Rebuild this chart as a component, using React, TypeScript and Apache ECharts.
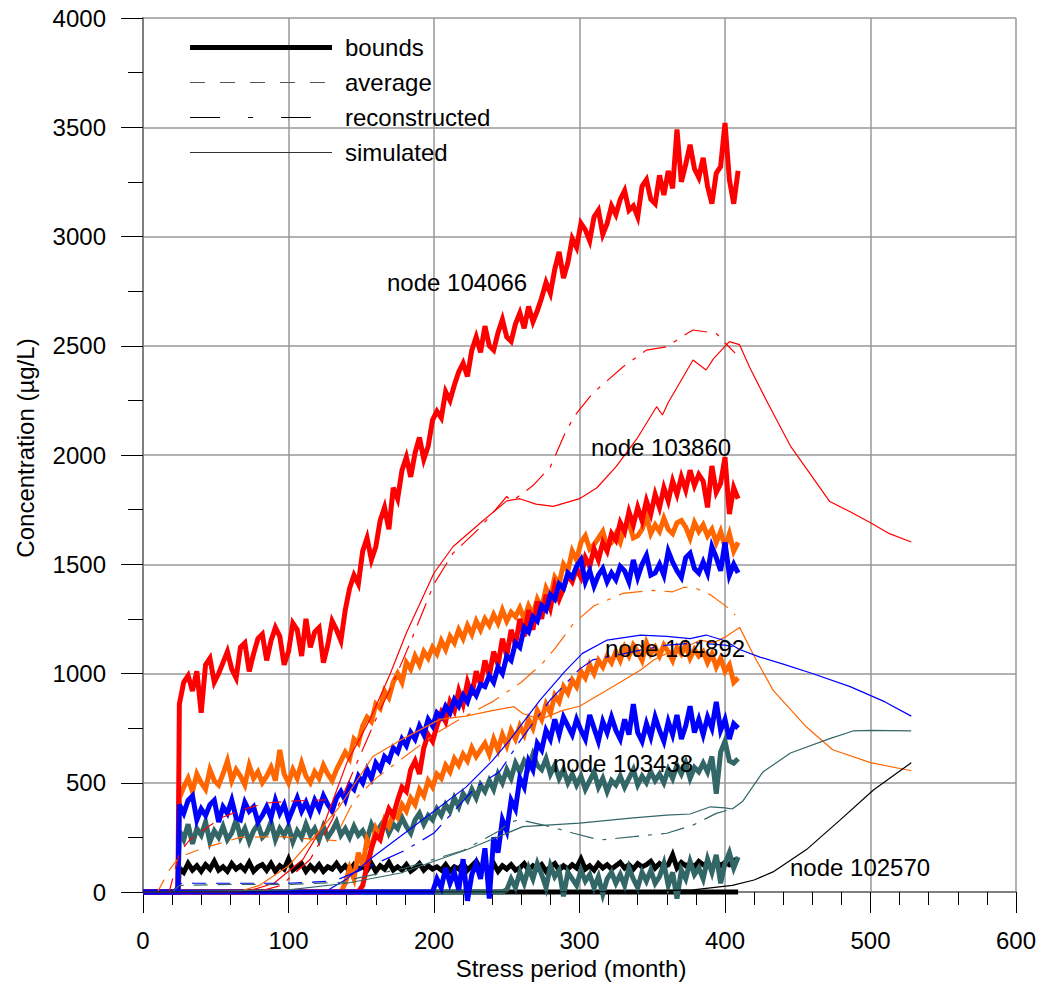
import React, { useEffect, useRef } from 'react';
import * as echarts from 'echarts';

const FONT = '"Liberation Sans", Arial, Helvetica, sans-serif';

// months at which the bound curves are sampled
const M = [25,28,31,34,37,40,43,46,49,52, 55,58,61,64,67,70,73,76,79,82, 85,88,91,94,97,100,103,106,109,112,
  115,118,121,124,127,130,133,136,139,142, 145,148,151,154,157,160,163,166,169,172, 175,178,181,184,187,190,193,196,199,202,
  205,208,211,214,217,220,223,226,229,232, 235,238,241,244,247,250,253,256,259,262, 265,268,271,274,277,280,283,286,289,292,
  295,298,301,304,307,310,313,316,319,322, 325,328,331,334,337,340,343,346,349,352, 355,358,361,364,367,370,373,376,379,382,
  385,388,391,394,397,400,403,406,409];

// ---- node 104066 (red) ----
const RED_UP = [860,960,990,920,1010,820,1040,1070,960,1000, 1050,1100,1020,980,1120,1140,1010,1090,1160,1180,
  1060,1150,1210,1170,1040,1100,1230,1200,1080,1250, 1120,1190,1210,1050,1130,1240,1200,1150,1290,1390,
  1450,1410,1560,1620,1520,1580,1700,1760,1660,1850, 1800,1930,1990,1900,2010,2080,1980,2040,2160,2200,
  2170,2290,2250,2320,2380,2420,2360,2480,2540,2470, 2590,2500,2480,2560,2620,2540,2520,2600,2650,2580,
  2680,2610,2660,2720,2790,2740,2850,2930,2810,2880, 2990,2950,3060,3030,2980,3090,3120,3010,3060,3140,
  3100,3170,3210,3120,3140,3090,3230,3260,3170,3150, 3280,3190,3300,3220,3490,3250,3330,3420,3310,3270,
  3360,3230,3150,3290,3320,3520,3260,3150,3300];
const RED_LOW_FROM = 145;
const RED_LOW = [0,0,30,120,200,260,240,320,380,350, 420,480,460,560,600,540,660,720,690,760,
  820,780,870,830,920,860,960,900,1010,950, 1060,990,1100,1040,1160,1080,1200,1130,1250,1170,
  1290,1200,1330,1250,1360,1300,1400,1340,1390,1450, 1420,1480,1440,1530,1490,1570,1520,1600,1560,1640,
  1610,1690,1650,1740,1680,1760,1700,1790,1730,1820, 1760,1850,1790,1880,1820,1900,1840,1930,1860,1910,
  1880,1760,1950,1830,1870,1990,1730,1850,1800];
const RED_AVG_X = [18,25,32,45,55,70,85,100,115,126];
const RED_AVG_Y = [0,178,238,300,343,380,407,415,420,421];
const RED_REC_X = [78,95,115,130,145,160,172,183,200,213,232,250,253,256,268,280,291,298,309,330,346,360,370,378,394,402,407];
const RED_REC_Y = [0,30,150,330,560,790,960,1130,1410,1550,1670,1810,1790,1800,1860,1946,2114,2191,2282,2404,2480,2495,2540,2572,2557,2500,2466];
const RED_SIM_X = [0,70,90,110,125,140,156,170,181,200,213,232,250,259,270,282,300,312,325,340,353,357,361,378,387,392,403,410,417,430,445,460,472,486,500,513,528];
const RED_SIM_Y = [0,0,40,150,320,590,790,1000,1185,1460,1580,1690,1790,1800,1775,1765,1800,1850,1946,2080,2221,2183,2240,2435,2389,2440,2519,2505,2400,2230,2041,1900,1787,1740,1690,1640,1602];

// ---- node 103860 (orange) ----
const ORANGE_UP = [430,480,520,460,540,500,470,560,510,490, 540,600,510,560,530,490,580,520,550,500,
  530,570,510,650,540,500,560,520,590,530, 500,550,520,580,540,510,560,600,640,610,
  700,680,760,800,780,860,840,920,890,960, 1000,960,1050,1020,1080,1040,1100,1070,1120,1090,
  1150,1110,1170,1140,1200,1160,1220,1180,1240,1200, 1250,1220,1270,1230,1290,1240,1280,1260,1300,1250,
  1310,1270,1340,1300,1390,1350,1440,1410,1500,1470, 1560,1520,1600,1630,1570,1590,1620,1650,1580,1600,
  1640,1600,1670,1690,1620,1630,1660,1720,1640,1680, 1650,1710,1660,1640,1690,1700,1670,1620,1690,1650,
  1680,1630,1660,1600,1650,1580,1640,1560,1600];
const ORANGE_LOW_FROM = 136;
const ORANGE_LOW = [0,40,110, 60,180,120,240,200,290,250,330,300,360, 340,400,370,430,400,470,440,510,480,540,
  520,580,550,610,580,630,600,660,620,650, 680,630,700,650,720,670,740,700,760,720,
  790,750,830,790,860,820,900,870,940,910, 970,940,1010,980,1040,1000,1060,1030,1080,1050,
  1100,1060,1120,1080,1130,1100,1060,1140,1090,1120, 1080,1130,1100,1060,1120,1090,1130,1070,1110,1080,
  1100,1050,1090,1030,1070,1010,1040,960,980];
const ORANGE_AVG_X = [10,18,25,41,67,94,122,133];
const ORANGE_AVG_Y = [0,100,160,200,250,253,240,235];
const ORANGE_REC_X = [136,145,160,180,200,220,240,260,275,284,296,310,330,350,364,372,380,390,401,407];
const ORANGE_REC_Y = [300,420,520,620,720,800,870,960,1050,1122,1230,1310,1367,1380,1374,1395,1390,1360,1306,1268];
const ORANGE_SIM_X = [0,65,80,100,120,135,158,177,204,222,240,255,261,273,288,300,319,342,351,360,370,383,392,401,410,420,433,456,474,500,528];
const ORANGE_SIM_Y = [0,0,30,120,270,390,620,695,790,805,830,848,817,790,830,850,924,1016,1062,1092,1110,1153,1140,1170,1211,1080,924,755,651,592,555];

// ---- node 104892 (blue) ----
const BLUE_UP = [400,360,420,440,330,380,350,400,420,320, 390,360,420,340,330,410,370,390,320,350,
  390,340,420,360,400,330,380,430,370,410, 360,420,380,440,400,370,430,460,420,490,
  470,530,500,560,520,590,560,620,600,660, 640,700,670,730,700,760,720,790,760,820,
  800,850,820,880,850,900,870,930,900,950, 940,990,960,1030,1000,1080,1060,1140,1120,1210,
  1190,1260,1240,1310,1290,1360,1340,1410,1390,1460, 1440,1490,1520,1420,1470,1400,1450,1480,1420,1460,
  1430,1490,1470,1420,1520,1440,1500,1540,1450,1460, 1500,1450,1560,1510,1470,1440,1530,1550,1480,1460,
  1510,1460,1580,1530,1470,1600,1450,1500,1460];
const BLUE_LOW_FROM = 199;
const BLUE_LOW = [0,60, 20,110,40,90,10,150,-40,80,130,60, 200,-30,250,180,330,280,420,380,520,480,
  600,560,680,650,740,700,790,720,800,760, 720,790,740,700,810,750,690,780,730,800,
  740,700,790,720,860,730,690,770,710,800, 740,690,780,720,810,700,760,850,730,790,
  720,800,750,870,740,790,700,770,750];
const BLUE_AVG_X = [20,25,60,100,130];
const BLUE_AVG_Y = [0,40,40,40,50];
const BLUE_REC_X = [135,160,180,200,215,229,245,260,280,300,309,330,342,360,380,400,407];
const BLUE_REC_Y = [60,130,190,270,380,482,550,700,880,1020,1062,1090,1107,1130,1140,1130,1120];
const BLUE_SIM_X = [0,125,140,158,180,204,222,240,252,273,290,302,319,342,360,376,387,400,410,424,440,460,486,510,528];
const BLUE_SIM_Y = [0,0,60,160,270,390,480,600,695,879,1010,1092,1153,1176,1170,1160,1176,1150,1110,1075,1043,1000,940,870,805];

// ---- node 103438 (teal) ----
const TEAL_UP = [280,240,310,220,290,260,320,230,280,250, 300,240,270,330,250,290,230,280,310,250,
  270,320,240,290,260,300,230,280,250,310, 260,290,240,300,250,280,320,260,290,250,
  300,260,280,240,310,270,300,330,270,310, 290,340,300,270,330,360,310,350,330,380,
  350,400,370,430,390,450,420,470,430,490, 460,510,470,540,500,560,520,590,550,600,
  570,630,580,560,610,540,580,520,560,500, 540,490,530,470,510,550,480,520,460,510,
  490,530,480,520,560,490,530,500,550,510, 540,500,560,520,580,540,590,520,570,550,
  590,550,620,450,640,690,600,590,610];
const TEAL_LOW_FROM = 247;
const TEAL_LOW = [0,10,60,20,90,40, 110,60,130,80,20,120,70,100,-20,90,
  60,30,100,50,80,20,70,-10,60,90, 40,80,30,110,60,20,90,50,100,40,
  70,130,30,90,-30,100,60,140,80,110, 60,150,90,170,40,130,180,110,160];
const TEAL_AVG_X = [20,25,60,100,140];
const TEAL_AVG_Y = [0,30,35,35,45];
const TEAL_REC_X = [145,180,220,245,252,259,280,296,314,337,360,378,394,405];
const TEAL_REC_Y = [60,110,190,280,320,330,299,269,238,253,269,306,360,380];
const TEAL_SIM_X = [0,100,140,177,222,261,300,337,360,376,390,400,405,412,426,445,472,488,500,528];
const TEAL_SIM_Y = [0,10,40,87,192,299,315,339,352,357,390,385,380,414,549,636,702,737,740,737];

// ---- node 102570 (black) ----
const BLACK_UP = [110,90,130,100,120,95,125,105,140,100, 115,95,130,105,120,100,135,95,115,125,
  100,130,95,120,105,150,100,115,130,95, 120,100,125,95,115,105,130,100,120,95,
  125,105,115,100,130,95,120,105,135,100, 115,100,125,95,110,130,100,120,105,115,
  100,125,95,115,105,130,100,120,140,105, 115,100,130,95,120,105,125,100,110,130,
  100,120,105,125,95,115,130,100,120,105, 125,110,150,105,120,100,130,110,125,105,
  120,135,110,125,105,130,115,125,140,110, 130,115,125,170,110,135,120,130,115,140,
  125,130,115,140,120,135,125,145,150];
const BLACK_LOW_X = [0,409];
const BLACK_LOW_Y = [0,0];
const BLACK_SIM_X = [0,300,350,378,405,420,433,456,479,502,528];
const BLACK_SIM_Y = [0,0,5,10,30,55,92,194,329,467,592];

const X_TICKS = { min: 0, max: 600, interval: 100 };
const Y_TICKS = { min: 0, max: 4000, interval: 500 };

const LEGEND_ITEMS = [
  { name: 'bounds', color: '#000000', width: 5, dash: null as number[] | null },
  { name: 'average', color: '#555555', width: 1, dash: [15, 15] },
  { name: 'reconstructed', color: '#000000', width: 1, dash: [30, 28, 5, 28] },
  { name: 'simulated', color: '#333333', width: 1, dash: null },
];

const NODE_LABELS = [
  { text: 'node 104066', x: 387, y: 282 },
  { text: 'node 103860', x: 591, y: 447 },
  { text: 'node 104892', x: 605, y: 648 },
  { text: 'node 103438', x: 553, y: 763 },
  { text: 'node 102570', x: 790, y: 867 },
];

const COLORS = { red: '#ff0000', orange: '#ff6600', blue: '#0000ff', teal: '#336666', black: '#000000' };
const AVG_DASH = [14, 10];
const REC_DASH = [24, 9, 4, 9];

function upper(vals: number[]) {
  const d: number[][] = [[0, 0], [24, 0]];
  M.forEach((m, i) => d.push([m, vals[i]]));
  return d;
}
function lower(from: number, vals: number[]) {
  const d: number[][] = [[0, 0]];
  M.filter((m) => m >= from).forEach((m, i) => d.push([m, vals[i]]));
  return d;
}
function pairs(xs: number[], ys: number[]) {
  return xs.map((x, i) => [x, ys[i]]);
}

function bound(name: string, color: string, data: number[][], z: number) {
  return {
    type: 'line', name, data, symbol: 'none', clip: false, silent: true, z,
    itemStyle: { color }, lineStyle: { color, width: 5, join: 'miter' },
  };
}
function thin(name: string, color: string, data: number[][], dash: any, z: number) {
  return {
    type: 'line', name, data, symbol: 'none', silent: true, z,
    itemStyle: { color }, lineStyle: { color, width: 1.2, type: dash },
  };
}

export default function App() {
  const ref = useRef<HTMLDivElement>(null);
  useEffect(() => {
    const chart = echarts.init(ref.current as HTMLDivElement, undefined, { renderer: 'svg' });
    const series: any[] = [
      bound('black low', COLORS.black, pairs(BLACK_LOW_X, BLACK_LOW_Y), 3),
      bound('black up', COLORS.black, upper(BLACK_UP), 3),
      bound('teal up', COLORS.teal, upper(TEAL_UP), 4),
      bound('teal low', COLORS.teal, lower(TEAL_LOW_FROM, TEAL_LOW), 4),
      bound('orange up', COLORS.orange, upper(ORANGE_UP), 5),
      bound('orange low', COLORS.orange, lower(ORANGE_LOW_FROM, ORANGE_LOW), 5),
      bound('red up', COLORS.red, upper(RED_UP), 6),
      bound('red low', COLORS.red, lower(RED_LOW_FROM, RED_LOW), 6),
      bound('blue up', COLORS.blue, upper(BLUE_UP), 7),
      bound('blue low', COLORS.blue, lower(BLUE_LOW_FROM, BLUE_LOW), 7),

      thin('red avg', COLORS.red, pairs(RED_AVG_X, RED_AVG_Y), AVG_DASH, 10),
      thin('red rec', COLORS.red, pairs(RED_REC_X, RED_REC_Y), REC_DASH, 10),
      thin('red sim', COLORS.red, pairs(RED_SIM_X, RED_SIM_Y), 'solid', 10),
      thin('orange avg', COLORS.orange, pairs(ORANGE_AVG_X, ORANGE_AVG_Y), AVG_DASH, 10),
      thin('orange rec', COLORS.orange, pairs(ORANGE_REC_X, ORANGE_REC_Y), REC_DASH, 10),
      thin('orange sim', COLORS.orange, pairs(ORANGE_SIM_X, ORANGE_SIM_Y), 'solid', 10),
      thin('blue avg', COLORS.blue, pairs(BLUE_AVG_X, BLUE_AVG_Y), AVG_DASH, 10),
      thin('blue rec', COLORS.blue, pairs(BLUE_REC_X, BLUE_REC_Y), REC_DASH, 10),
      thin('blue sim', COLORS.blue, pairs(BLUE_SIM_X, BLUE_SIM_Y), 'solid', 10),
      thin('teal avg', COLORS.teal, pairs(TEAL_AVG_X, TEAL_AVG_Y), AVG_DASH, 10),
      thin('teal rec', COLORS.teal, pairs(TEAL_REC_X, TEAL_REC_Y), REC_DASH, 10),
      thin('teal sim', COLORS.teal, pairs(TEAL_SIM_X, TEAL_SIM_Y), 'solid', 10),
      thin('black sim', COLORS.black, pairs(BLACK_SIM_X, BLACK_SIM_Y), 'solid', 10),
    ];

    const legendGraphics: any[] = [];
    LEGEND_ITEMS.forEach((it, i) => {
      const y = 47 + i * 35;
      const ly = it.width % 2 === 1 ? y + 0.5 : y;
      legendGraphics.push({
        type: 'line', z: 100, silent: true,
        shape: { x1: 190, y1: ly, x2: 332, y2: ly },
        style: { stroke: it.color, lineWidth: it.width, lineDash: it.dash || undefined },
      });
      legendGraphics.push({
        type: 'text', z: 100, silent: true, x: 345, y,
        style: { text: it.name, fontSize: 24, fontFamily: FONT, fill: '#000', verticalAlign: 'middle', align: 'left' },
      });
    });

    const option: any = {
      animation: false,
      backgroundColor: '#ffffff',
      textStyle: { fontFamily: FONT },
      grid: { left: 143, right: 23, top: 18, bottom: 91, containLabel: false, outerBoundsMode: 'none' },
      xAxis: {
        type: 'value',
        ...X_TICKS,
        name: 'Stress period (month)',
        nameLocation: 'middle',
        nameGap: 62,
        nameTextStyle: { fontSize: 24, color: '#000', fontFamily: FONT, padding: [0, 17, 0, 0] },
        axisLine: { show: true, onZero: false, lineStyle: { color: '#808080', width: 2 } },
        axisTick: { show: true, length: 21, lineStyle: { color: '#000', width: 1 } },
        minorTick: { show: true, splitNumber: 5, length: 13, lineStyle: { color: '#000', width: 1 } },
        splitLine: { show: true, lineStyle: { color: '#999999', width: 1.5 } },
        axisLabel: { fontSize: 24, color: '#000', fontFamily: FONT, margin: 36, formatter: (v: number) => String(v) },
      },
      yAxis: {
        type: 'value',
        ...Y_TICKS,
        name: 'Concentration (µg/L)',
        nameLocation: 'middle',
        nameGap: 106,
        nameRotate: 90,
        nameTextStyle: { fontSize: 24, color: '#000', fontFamily: FONT, padding: [0, 0, 0, 14] },
        axisLine: { show: true, onZero: false, lineStyle: { color: '#808080', width: 2 } },
        axisTick: { show: true, length: 22, lineStyle: { color: '#000', width: 1 } },
        minorTick: { show: true, splitNumber: 2, length: 15, lineStyle: { color: '#000', width: 1 } },
        splitLine: { show: true, lineStyle: { color: '#999999', width: 1.5 } },
        axisLabel: { fontSize: 24, color: '#000', fontFamily: FONT, margin: 37, formatter: (v: number) => String(v) },
      },
      graphic: [
        ...legendGraphics,
        ...NODE_LABELS.map((l) => ({
          type: 'text',
          x: l.x,
          y: l.y,
          z: 100,
          silent: true,
          style: { text: l.text, fontSize: 24, fontFamily: FONT, fill: '#000', verticalAlign: 'middle', align: 'left' },
        })),
      ],
      series,
    };
    chart.setOption(option);
    return () => chart.dispose();
  }, []);
  return (
    <div
      ref={ref}
      style={{ position: 'fixed', left: 0, top: 0, width: 1039, height: 983, background: '#fff' }}
    />
  );
}
